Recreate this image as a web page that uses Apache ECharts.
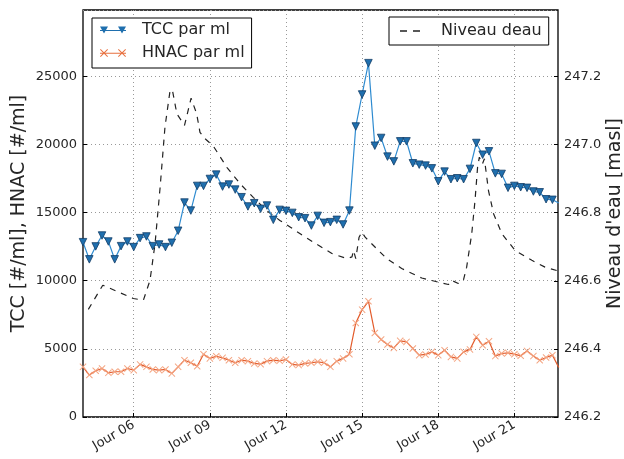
<!DOCTYPE html>
<html>
<head>
<meta charset="utf-8">
<script src="https://cdn.jsdelivr.net/npm/echarts@6/dist/echarts.min.js"></script>
<style>
  html, body { margin: 0; padding: 0; background: #fff; }
  #app { width: 624px; height: 459px; }
</style>
</head>
<body>
<div id="app"></div>
<script>
// sampling days (every 6 h)
var days = [
  4.00, 4.25, 4.50, 4.75, 5.00, 5.25, 5.50, 5.75, 6.00, 6.25, 6.50, 6.75,
  7.00, 7.25, 7.50, 7.75, 8.00, 8.25, 8.50, 8.75, 9.00, 9.25, 9.50, 9.75,
  10.00, 10.25, 10.50, 10.75, 11.00, 11.25, 11.50, 11.75, 12.00, 12.25, 12.50, 12.75,
  13.00, 13.25, 13.50, 13.75, 14.00, 14.25, 14.50, 14.75, 15.00, 15.25, 15.50, 15.75,
  16.00, 16.25, 16.50, 16.75, 17.00, 17.25, 17.50, 17.75, 18.00, 18.25, 18.50, 18.75,
  19.00, 19.25, 19.50, 19.75, 20.00, 20.25, 20.50, 20.75, 21.00, 21.25, 21.50, 21.75,
  22.00, 22.25, 22.50, 22.75
];

var tcc = [
  12830, 11570, 12520, 13320, 12880, 11570, 12540, 12880, 12470, 13130, 13250, 12540,
  12660, 12470, 12790, 13670, 15740, 15150, 16960, 16960, 17470, 17790, 16910, 17060,
  16690, 16130, 15450, 15690, 15280, 15520, 14470, 15200, 15130, 14980, 14660, 14590,
  14050, 14760, 14250, 14300, 14470, 14130, 15150, 21320, 23670, 25970, 19910, 20480,
  19110, 18760, 20230, 20230, 18620, 18520, 18450, 18250, 17300, 18010, 17450, 17520,
  17450, 18210, 20110, 19250, 19500, 17880, 17840, 16820, 16960, 16860, 16820, 16550,
  16490, 15980, 15940, 15700
];

var hnac = [
  3680, 3080, 3390, 3560, 3240, 3320, 3320, 3560, 3440, 3860, 3680, 3490,
  3440, 3490, 3200, 3680, 4170, 3980, 3730, 4610, 4300, 4460, 4340, 4170,
  3980, 4170, 4100, 3930, 3880, 4100, 4170, 4120, 4220, 3860, 3810, 3930,
  3980, 4050, 3980, 3680, 4100, 4300, 4610, 6900, 7880, 8490, 6170, 5690,
  5320, 5070, 5590, 5510, 5030, 4540, 4590, 4780, 4540, 4900, 4410, 4300,
  4780, 4960, 5880, 5270, 5560, 4470, 4660, 4710, 4610, 4490, 4850, 4470,
  4170, 4370, 4540, 3640
];

// water level [day, masl]
var niveauDays = [
  4.21, 4.78, 5.98, 6.38, 6.64, 6.84, 7.04, 7.23, 7.43, 7.52, 7.70, 8.00,
  8.26, 8.48, 8.61, 8.81, 9.14, 9.67, 10.19, 10.71, 11.24, 11.76, 12.16, 12.62,
  13.28, 13.81, 14.40, 14.60, 14.66, 14.75, 14.88, 14.99, 15.12, 15.25, 15.71, 15.97,
  16.56, 17.35, 18.00, 18.40, 18.53, 18.79, 18.99, 19.12, 19.32, 19.45, 19.55, 19.62,
  19.74, 19.82, 19.98, 20.18, 20.51, 21.03, 21.69, 22.21, 22.72
];
var niveau = [
  246.516, 246.587, 246.548, 246.543, 246.601, 246.709, 246.875, 247.051, 247.158, 247.161, 247.090, 247.056,
  247.136, 247.090, 247.036, 247.017, 246.995, 246.933, 246.885, 246.845, 246.806, 246.777, 246.758, 246.735,
  246.704, 246.680, 246.665, 246.670, 246.689, 246.665, 246.728, 246.743, 246.728, 246.718, 246.684, 246.665,
  246.636, 246.608, 246.596, 246.589, 246.601, 246.592, 246.601, 246.640, 246.738, 246.836, 246.933, 246.963,
  246.943, 246.958, 246.865, 246.797, 246.738, 246.689, 246.660, 246.640, 246.629
];

var dayTicks = [6, 9, 12, 15, 18, 21];

function zip(xs, ys) {
  var out = [];
  for (var i = 0; i < xs.length; i++) out.push([xs[i], ys[i]]);
  return out;
}

var textColor = '#262626';
var font = 'DejaVu Sans';
var crossPath = 'path://M0,1L1,0L5,4L9,0L10,1L6,5L10,9L9,10L5,6L1,10L0,9L4,5Z';
// legend icons: line with a marker at each end (like matplotlib)
var tccIcon = 'path://M0,4.5h26v1h-26zM0,1h8l-4,7zM18,1h8l-4,7z';
var hnacIcon = 'path://M0,4.5h26v1h-26zM0,1.5l0.7,-0.7l3.3,3.3l3.3,-3.3l0.7,0.7l-3.3,3.3l3.3,3.3l-0.7,0.7l-3.3,-3.3l-3.3,3.3l-0.7,-0.7l3.3,-3.3zM18,1.5l0.7,-0.7l3.3,3.3l3.3,-3.3l0.7,0.7l-3.3,3.3l3.3,3.3l-0.7,0.7l-3.3,-3.3l-3.3,3.3l-0.7,-0.7l3.3,-3.3z';
var dashIcon = 'path://M0,0h7v1.3h-7zM13,0h7v1.3h-7z';

var myChart = echarts.init(document.getElementById('app'), null, { renderer: 'canvas' });

myChart.setOption({
  backgroundColor: '#fff',
  animation: false,
  textStyle: { fontFamily: font, color: textColor },
  grid: {
    left: 83, right: 66, top: 10, bottom: 42,
    outerBoundsMode: 'none', containLabel: false,
    show: true, borderColor: '#000', borderWidth: 1.3, backgroundColor: 'transparent'
  },
  legend: [
    {
      data: [
        { name: 'TCC par ml', icon: tccIcon, itemStyle: { color: '#1f6fae', borderWidth: 0 } },
        { name: 'HNAC par ml', icon: hnacIcon, itemStyle: { color: '#e8703f', borderWidth: 0 } }
      ],
      orient: 'vertical',
      left: 92, top: 18,
      padding: [3, 7, 6, 8],
      itemWidth: 26, itemHeight: 9, itemGap: 5,
      borderColor: '#000', borderWidth: 1, backgroundColor: '#fff', borderRadius: 0,
      textStyle: { fontFamily: font, fontSize: 16, color: textColor, padding: [0, 0, 0, 11], lineHeight: 18 }
    },
    {
      data: [{ name: 'Niveau deau', icon: dashIcon, itemStyle: { color: '#222' } }],
      left: 389, top: 17,
      padding: [5, 7, 5, 11],
      itemWidth: 20, itemHeight: 1.3,
      borderColor: '#000', borderWidth: 1, backgroundColor: '#fff', borderRadius: 0,
      textStyle: { fontFamily: font, fontSize: 16, color: textColor, padding: [0, 0, 0, 16], lineHeight: 18 }
    }
  ],
  xAxis: {
    type: 'value',
    min: 4, max: 22.72,
    axisLine: { show: false },
    axisTick: { show: true, inside: true, length: 4, customValues: dayTicks, lineStyle: { color: '#000' } },
    axisLabel: {
      customValues: dayTicks,
      rotate: 30, margin: 7,
      fontFamily: font, fontSize: 13, color: textColor,
      formatter: function (v) { return 'Jour ' + (v < 10 ? '0' + v : '' + v); }
    },
    splitLine: { show: true, lineStyle: { color: '#999', type: [1, 3], width: 1 } }
  },
  yAxis: [
    {
      type: 'value',
      min: 0, max: 29870, interval: 5000,
      name: 'TCC [#/ml], HNAC [#/ml]',
      nameLocation: 'middle', nameRotate: 90, nameGap: 54, nameMoveOverlap: false,
      nameTextStyle: { fontFamily: font, fontSize: 19, color: textColor },
      axisLine: { show: false },
      axisTick: { show: true, inside: true, length: 4, lineStyle: { color: '#000' } },
      axisLabel: {
        showMaxLabel: false, fontFamily: font, fontSize: 13, color: textColor, margin: 6,
        formatter: function (v) { return String(v); }
      },
      splitLine: { show: true, lineStyle: { color: '#999', type: [1, 3], width: 1 } }
    },
    {
      type: 'value',
      position: 'right',
      min: 246.2, max: 247.395, interval: 0.2,
      name: "Niveau d'eau [masl]",
      nameLocation: 'middle', nameRotate: 90, nameGap: 48, nameMoveOverlap: false,
      nameTextStyle: { fontFamily: font, fontSize: 19, color: textColor },
      axisLine: { show: false },
      axisTick: { show: true, inside: true, length: 4, lineStyle: { color: '#000' } },
      axisLabel: {
        showMaxLabel: false, fontFamily: font, fontSize: 13, color: textColor, margin: 6,
        formatter: function (v) { return v.toFixed(1); }
      },
      splitLine: { show: false }
    }
  ],
  series: [
    {
      name: 'TCC par ml',
      type: 'line',
      yAxisIndex: 0,
      data: zip(days, tcc),
      symbol: 'triangle', symbolRotate: 180, symbolSize: 7.5,
      lineStyle: { color: '#2e8bd0', width: 1.2 },
      itemStyle: { color: '#1f6fae', borderColor: '#123c66', borderWidth: 0.8 },
      z: 3
    },
    {
      name: 'HNAC par ml',
      type: 'line',
      yAxisIndex: 0,
      data: zip(days, hnac),
      symbol: crossPath, symbolSize: 7,
      lineStyle: { color: '#e35b2b', width: 1.2 },
      itemStyle: { color: '#f4a582', borderWidth: 0 },
      z: 3
    },
    {
      name: 'Niveau deau',
      type: 'line',
      yAxisIndex: 1,
      data: zip(niveauDays, niveau),
      showSymbol: false, symbol: 'none',
      lineStyle: { color: '#222', width: 1.2, type: [6, 6] },
      itemStyle: { color: '#222' },
      z: 2
    }
  ]
});
</script>
</body>
</html>
